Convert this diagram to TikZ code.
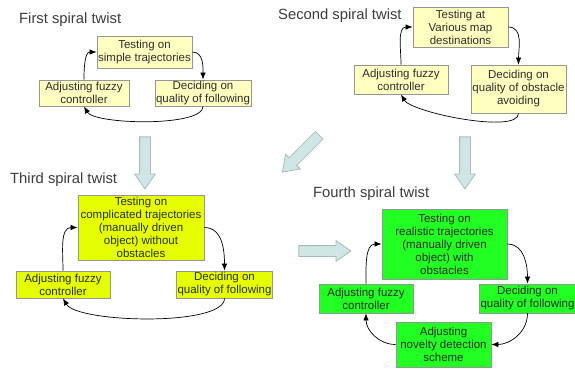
\documentclass[tikz,border=0pt]{standalone}
\usepackage{fontspec}
\setmainfont{Liberation Sans}
\usetikzlibrary{arrows.meta, shapes.arrows}

\definecolor{paleyellow}{RGB}{255,255,192}
\definecolor{brightyellow}{RGB}{230,255,0}
\definecolor{brightgreen}{RGB}{34,255,34}
\definecolor{boxline}{RGB}{150,150,150}
\definecolor{txtgray}{RGB}{45,45,45}
\definecolor{titlegray}{RGB}{60,60,60}
\definecolor{arrowfill}{RGB}{208,230,228}
\definecolor{arrowline}{RGB}{165,190,188}

\begin{document}
\begin{tikzpicture}[
    x=1pt, y=1pt,
    every node/.style={align=center, font=\fontsize{11.5}{13}\selectfont, text=txtgray, inner sep=1pt},
    box/.style={rectangle, draw=boxline, line width=0.8pt},
    first/.style={box, fill=paleyellow},
    third/.style={box, fill=brightyellow},
    fourth/.style={box, fill=brightgreen},
    title/.style={anchor=base west, font=\fontsize{14.8}{17}\selectfont, text=titlegray, inner sep=0pt},
    arrow/.style={-{Latex[length=7pt,width=5.5pt]}, line width=0.7pt},
    back/.style={arrow, looseness=0.45}, % shallow return loop
    bigarrow/.style={single arrow, draw=arrowline, fill=arrowfill, line width=0.8pt,
        minimum height=52pt, minimum width=20pt, inner sep=5pt,
        single arrow head extend=5pt, single arrow tip angle=70} % block arrows between twists
]
\useasboundingbox (0,0) rectangle (575,-372);

% first spiral twist
\node[title] (title1) at (19,-23) {First spiral twist};
\node[first, minimum width=95pt, minimum height=32pt] (test1) at (144.5,-52) {Testing on\\simple trajectories};
\node[first, minimum width=90pt, minimum height=26pt] (adjust1) at (84,-93) {Adjusting fuzzy\\controller};
\node[first, minimum width=94pt, minimum height=26pt] (decide1) at (203,-93) {Deciding on\\quality of following};

\draw[arrow] (test1.east) to[out=0, in=90] (decide1.north);
\draw[back] (decide1.south) to[out=-90, in=-60] (adjust1.south);
\draw[arrow] (adjust1.north) to[out=90, in=180] (test1.west);

% second spiral twist
\node[title] (title2) at (278,-19) {Second spiral twist};
\node[first, minimum width=95pt, minimum height=40pt] (test2) at (460.5,-27) {Testing at\\Various map\\destinations};
\node[first, minimum width=94pt, minimum height=29pt] (adjust2) at (401,-79.5) {Adjusting fuzzy\\controller};
\node[first, minimum width=95pt, minimum height=48pt] (decide2) at (518.5,-89) {Deciding on\\quality of obstacle\\avoiding};

\draw[arrow] (test2.east) to[out=0, in=90] (decide2.north);
\draw[back] (decide2.south) to[out=-90, in=-60] (adjust2.south);
\draw[arrow] (adjust2.north) to[out=90, in=180] (test2.west);

% block arrows
\node[bigarrow, rotate=270] (down1) at (145,-159) {};
\node[bigarrow, rotate=225] (diag) at (303.5,-151) {};
\node[bigarrow, rotate=270] (down2) at (465,-159) {};
\node[bigarrow] (right) at (321,-251) {};

% third spiral twist
\node[title] (title3) at (10,-183) {Third spiral twist};
\node[third, minimum width=126pt, minimum height=65pt] (test3) at (141,-227.5) {Testing on\\complicated trajectories\\(manually driven\\object) without\\obstacles};
\node[third, minimum width=94pt, minimum height=27pt] (adjust3) at (63,-284.5) {Adjusting fuzzy\\controller};
\node[third, minimum width=95pt, minimum height=27pt] (decide3) at (224.5,-284.5) {Deciding on\\quality of following};

\draw[arrow] (test3.east) to[out=0, in=90] (decide3.north);
\draw[back] (decide3.south) to[out=-90, in=-60] (adjust3.south);
\draw[arrow] (adjust3.north) to[out=90, in=180] (test3.west);

% fourth spiral twist
\node[title] (title4) at (313,-197) {Fourth spiral twist};
\node[fourth, minimum width=125pt, minimum height=70pt] (test4) at (444.5,-244) {Testing on\\realistic trajectories\\(manually driven\\object) with\\obstacles};
\node[fourth, minimum width=94pt, minimum height=29pt] (adjust4) at (366,-298.5) {Adjusting fuzzy\\controller};
\node[fourth, minimum width=93pt, minimum height=29pt] (decide4) at (527.5,-298.5) {Deciding on\\quality of following};
\node[fourth, minimum width=95pt, minimum height=45pt] (novelty4) at (443.5,-344.5) {Adjusting\\novelty detection\\scheme};

\draw[arrow] (test4.east) to[out=0, in=90] (decide4.north);
\draw[arrow] (decide4.south) to[out=-90, in=0] (novelty4.east);
\draw[arrow] (novelty4.west) to[out=180, in=-90] (adjust4.south);
\draw[arrow] (adjust4.north) to[out=90, in=180] (test4.west);

\end{tikzpicture}
\end{document}
